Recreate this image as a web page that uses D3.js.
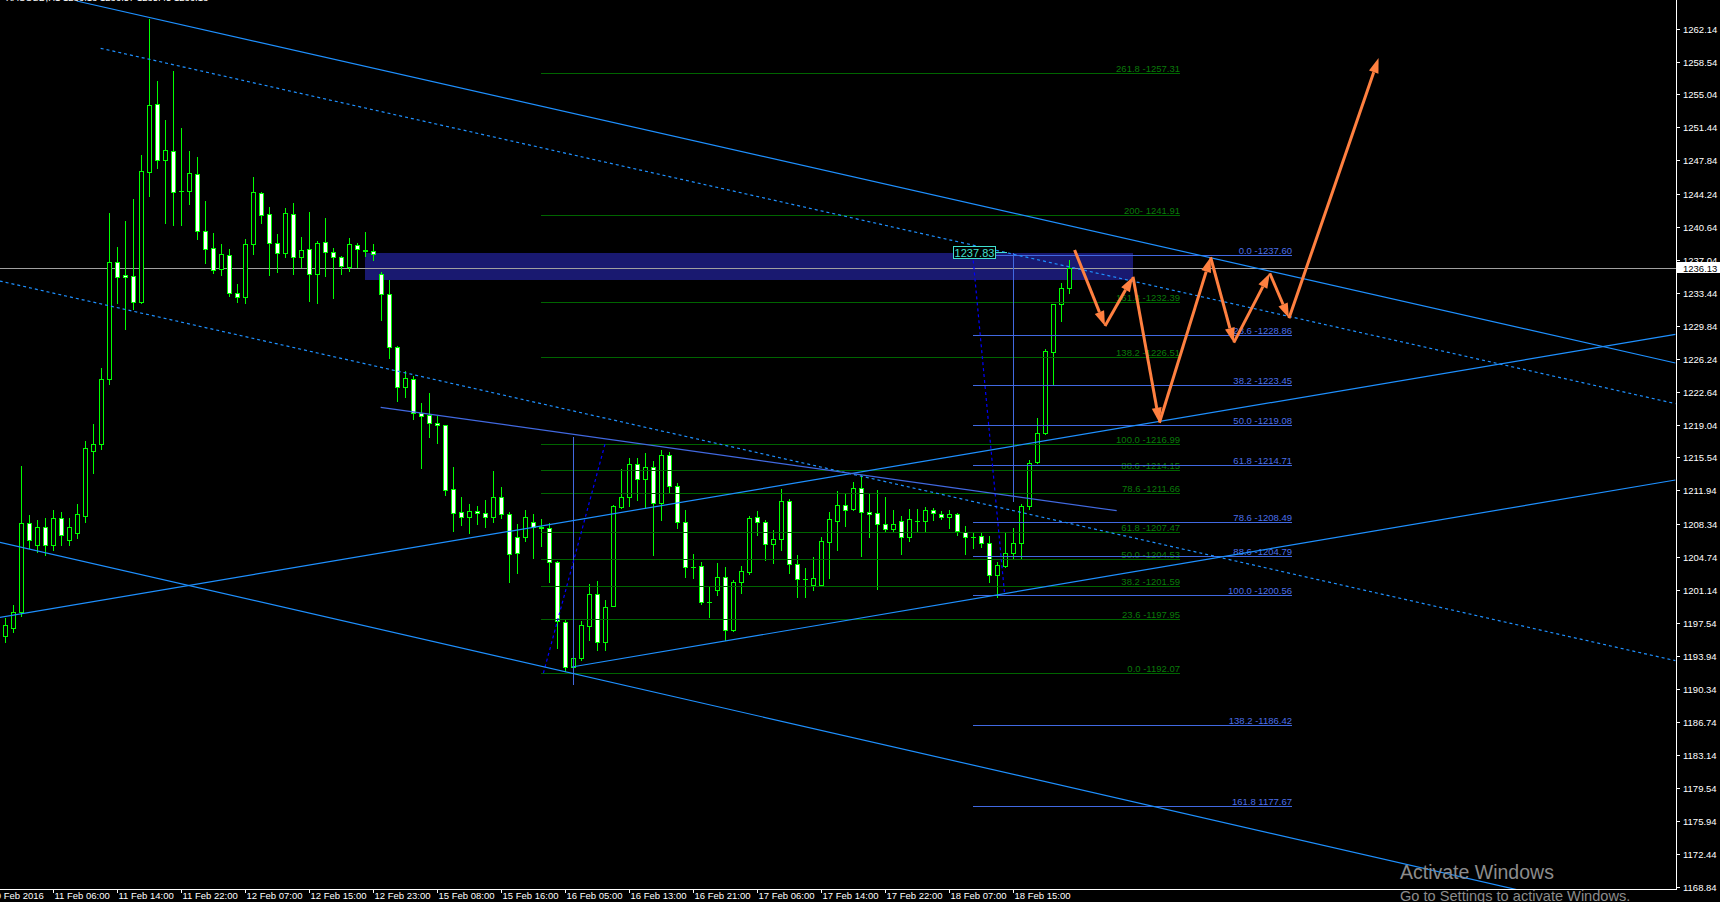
<!DOCTYPE html>
<html><head><meta charset="utf-8">
<script src="https://cdn.jsdelivr.net/npm/d3@7"></script>
<style>
html,body{margin:0;padding:0;background:#000;overflow:hidden;}
svg{display:block;}
text{font-family:"Liberation Sans",Arial,sans-serif;}
</style></head><body>
<svg id="chart" width="1720" height="902"></svg>
<script>
// ---------------- DATA ----------------
const firstBar = -14;
const opens = [1196.11,1196.98,1198.72,1208.40,1206.01,1207.97,1206.01,1208.94,1206.60,1207.30,1209.20,1216.20,1217.00,1224.10,
1236.76,1235.35,1235.24,1232.41,1246.62,1253.95,1247.86,1248.84,1244.55,1244.55,1246.33,1240.13,1238.28,1236.00,1237.52,1233.39,1232.95,1238.72,1244.27,1241.98,1238.83,1237.74,1241.98,1237.31,1238.18,1235.46,1238.94,1237.85,1237.31,1236.22,1238.61,1238.07,1237.96,
1235.46,1233.28,1227.52,1223.23,1224.03,1220.34,1220.12,1219.25,1219.03,1212.07,1209.57,1209.02,1209.68,1209.46,1209.02,1211.20,1209.35,1206.91,1206.85,1208.48,1207.94,1207.83,1204.13,1197.60,1192.71,1193.68,1197.23,1200.68,1195.49,1199.41,1210.11,1211.26,1214.82,1213.19,1214.53,1210.55,1215.80,1212.43,1208.48,1203.65,1203.73,1199.84,1201.15,1202.49,1196.80,1201.95,1203.04,1209.02,1208.48,1206.15,1206.63,1210.80,1203.91,1202.31,1201.66,1201.66,1206.37,1208.65,1210.33,1209.93,1212.18,1209.63,1209.46,1208.26,1207.72,1208.59,1206.91,1208.65,1208.59,1209.78,1209.41,1209.02,1209.35,1207.39,1206.91,1206.96,1206.28,1202.71,1203.76,1205.17,1206.20,1210.25,1215.07,1218.16,1227.04,1232.19,1233.99];
const highs = [1198.07,1199.48,1214.60,1209.27,1208.73,1208.94,1209.82,1209.59,1209.00,1210.50,1217.30,1219.20,1225.30,1242.09,
1238.43,1241.26,1243.65,1248.43,1263.23,1256.48,1252.24,1257.57,1251.37,1248.87,1248.22,1243.43,1239.95,1238.75,1238.21,1234.40,1239.30,1246.04,1244.44,1242.75,1239.81,1242.64,1243.21,1239.48,1242.20,1239.05,1241.54,1238.28,1237.41,1239.37,1238.83,1240.03,1238.72,
1235.71,1234.84,1227.66,1224.94,1224.40,1221.42,1222.51,1220.04,1219.10,1214.50,1211.23,1210.47,1210.25,1210.91,1214.06,1212.32,1209.59,1208.26,1209.82,1209.35,1208.84,1208.37,1204.30,1197.96,1193.82,1197.74,1201.77,1202.09,1200.03,1210.36,1214.24,1215.44,1215.44,1215.98,1215.15,1216.34,1216.16,1212.72,1209.82,1205.03,1204.13,1201.58,1204.02,1203.65,1202.20,1203.73,1209.16,1209.71,1208.73,1207.64,1212.07,1211.05,1204.92,1203.47,1204.67,1206.91,1209.59,1211.88,1211.70,1212.90,1213.62,1211.52,1211.99,1211.20,1209.82,1209.20,1209.93,1209.93,1210.18,1210.07,1209.71,1209.82,1209.46,1208.08,1207.46,1207.28,1206.99,1204.16,1207.42,1207.83,1210.47,1215.26,1219.79,1227.33,1232.19,1234.48,1236.99];
const lows = [1195.46,1196.55,1198.29,1205.68,1205.25,1204.92,1205.47,1206.01,1206.00,1206.80,1208.50,1213.80,1216.40,1223.50,
1232.37,1229.51,1231.65,1232.30,1244.01,1247.05,1241.07,1240.85,1240.85,1243.14,1239.30,1236.69,1235.63,1235.41,1233.06,1232.47,1232.37,1237.70,1241.07,1235.41,1235.74,1237.37,1235.52,1236.22,1232.58,1232.37,1235.30,1232.91,1235.46,1235.78,1236.22,1237.41,1236.98,
1230.49,1226.39,1221.70,1222.14,1219.72,1214.42,1217.79,1217.14,1211.45,1207.56,1208.19,1207.35,1208.30,1208.00,1208.54,1208.91,1202.02,1202.96,1206.48,1204.63,1205.93,1202.02,1194.77,1192.34,1192.07,1193.50,1195.67,1194.59,1194.59,1199.38,1210.00,1210.25,1210.91,1210.00,1204.92,1208.73,1211.81,1207.83,1202.56,1202.45,1199.59,1198.18,1200.57,1195.67,1196.70,1200.82,1202.86,1207.13,1204.41,1204.02,1205.47,1202.99,1200.39,1200.39,1201.11,1201.60,1202.45,1205.47,1208.11,1209.82,1204.85,1206.91,1201.26,1207.53,1207.56,1205.00,1206.48,1207.53,1207.56,1208.73,1208.84,1207.83,1207.13,1205.03,1205.65,1205.83,1202.02,1200.39,1203.65,1204.56,1204.56,1209.93,1214.93,1218.05,1223.52,1230.41,1233.45];
const closes = [1197.31,1198.72,1208.40,1206.55,1207.97,1206.01,1208.94,1207.10,1208.00,1209.40,1216.60,1217.00,1224.10,1236.76,
1235.20,1235.13,1232.41,1246.66,1253.84,1247.86,1248.95,1244.44,1244.55,1246.44,1240.13,1238.18,1235.89,1237.63,1233.39,1232.95,1238.72,1244.37,1241.87,1238.83,1237.74,1242.09,1237.31,1238.07,1235.46,1238.83,1237.85,1237.31,1236.33,1238.72,1238.18,1237.96,1237.63,
1233.28,1227.52,1223.23,1224.15,1220.34,1220.07,1219.25,1219.03,1211.96,1209.52,1209.02,1209.68,1209.46,1209.02,1211.20,1209.35,1205.06,1205.17,1209.02,1207.94,1207.86,1204.13,1197.74,1192.71,1193.68,1197.31,1200.68,1195.49,1199.30,1210.25,1211.26,1214.82,1213.19,1214.53,1210.55,1215.80,1212.43,1208.54,1203.58,1203.62,1199.84,1199.81,1202.49,1196.73,1201.95,1203.15,1208.94,1208.48,1206.15,1206.66,1210.80,1203.91,1202.28,1202.28,1202.39,1206.41,1208.84,1210.33,1209.85,1212.18,1209.63,1209.35,1208.26,1207.72,1208.26,1206.91,1208.80,1208.62,1209.78,1209.46,1209.02,1209.35,1207.53,1206.85,1206.88,1206.20,1202.71,1203.80,1205.19,1206.20,1210.25,1214.90,1218.16,1227.11,1232.19,1233.93,1236.13];

const priceTicks = [1262.14,1258.54,1255.04,1251.44,1247.84,1244.24,1240.64,1237.04,1233.44,1229.84,1226.24,1222.64,1219.04,1215.54,1211.94,1208.34,1204.74,1201.14,1197.54,1193.94,1190.34,1186.74,1183.14,1179.54,1175.94,1172.44,1168.84];
const lastPrice = 1236.13;
const timeTickBars = [-16,-8,0,8,16,24,32,40,48,56,64,72,80,88,96,104,112];
const timeLabels = ["10 Feb 2016","11 Feb 06:00","11 Feb 14:00","11 Feb 22:00","12 Feb 07:00","12 Feb 15:00","12 Feb 23:00","15 Feb 08:00","15 Feb 16:00","16 Feb 05:00","16 Feb 13:00","16 Feb 21:00","17 Feb 06:00","17 Feb 14:00","17 Feb 22:00","18 Feb 07:00","18 Feb 15:00"];

const greenFibLevels = [1257.31,1241.91,1232.39,1226.51,1216.99,1214.15,1211.66,1207.47,1204.53,1201.59,1197.95,1192.07];
const greenFibLabels = ["261.8 -1257.31","200- 1241.91","161.8 -1232.39","138.2 -1226.51","100.0 -1216.99","88.6 -1214.15","78.6 -1211.66","61.8 -1207.47","50.0 -1204.53","38.2 -1201.59","23.6 -1197.95","0.0 -1192.07"];
const greenFibSpan = [53, 132.9];
const blueFibLevels = [1237.60,1228.86,1223.45,1219.08,1214.71,1208.49,1204.79,1200.56,1186.42,1177.67];
const blueFibLabels = ["0.0 -1237.60","23.6 -1228.86","38.2 -1223.45","50.0 -1219.08","61.8 -1214.71","78.6 -1208.49","88.6 -1204.79","100.0 -1200.56","138.2 -1186.42","161.8 1177.67"];
const blueFibSpan = [107, 146.9];

const solidTrends = [[[-5.04,1265.19],[194.8,1225.81]],[[-14.66,1206.31],[194.8,1164.57]],[[-14.66,1198.13],[194.8,1228.93]],[[56.84,1192.74],[194.8,1213.08]]];
const dottedTrends = [[[-2.04,1260.04],[194.8,1221.39]],[[-14.66,1234.73],[194.8,1193.43]]];
const triangleTop = [[32.96,1220.99],[124.96,1209.74]];
const fibTrendLines = [[[53.3,1192.07],[61.0,1216.99]],[[106.96,1237.60],[110.96,1200.56]]];
const verticalLines = [[57,1217.73,1190.78],[112,1237.74,1210.72]];
const zoneBars = [30.96, 126.96];
const zonePrices = [1237.74, 1234.84];
const boxLabelBars = [104.46, 109.77];
const boxLabelPrice = 1237.83;
const forecastPath = [[119.7,1238.10],[123.5,1229.83],[127.0,1235.20],[130.3,1219.31],[136.7,1237.31],[139.6,1228.02],[144.1,1235.57],[146.5,1230.67],[157.7,1258.99]];

// ---------------- DRAW ----------------
const W = 1720, H = 902, PR = 1676, PB = 889;
const svg = d3.select("#chart");
const x = d3.scaleLinear().domain([-16, 119]).range([-11, 1069]);
const y = d3.scaleLinear().domain([1168.84, 1262.14]).range([886.7, 29]);
const Y = p => Math.round(y(p)) + 0.5;

svg.append("rect").attr("width", W).attr("height", H).attr("fill", "#000");
svg.append("defs").append("clipPath").attr("id", "plot")
  .append("rect").attr("x", 0).attr("y", 0).attr("width", PR).attr("height", PB);
const plot = svg.append("g").attr("clip-path", "url(#plot)");

// header (cut off at top, as in the screenshot)
svg.append("text").attr("x", 6).attr("y", 1).attr("fill", "#fff").attr("font-size", 9.5)
  .text("XAUUSD,H1  1236.13 1236.57 1235.45 1236.13");

// zone rectangle
plot.append("rect")
  .attr("x", Math.round(x(zoneBars[0]))).attr("y", Math.round(y(zonePrices[0])))
  .attr("width", Math.round(x(zoneBars[1]) - x(zoneBars[0])))
  .attr("height", Math.round(y(zonePrices[1]) - y(zonePrices[0])))
  .attr("fill", "#191970");

// last price line
plot.append("line").attr("x1", 0).attr("x2", PR).attr("y1", Y(lastPrice)).attr("y2", Y(lastPrice))
  .attr("stroke", "#a0a0a0").attr("shape-rendering", "crispEdges");

// candles
const bars = d3.range(opens.length).map(i => ({n: firstBar + i, o: opens[i], h: highs[i], l: lows[i], c: closes[i]}));
const cg = plot.append("g").attr("shape-rendering", "crispEdges");
const cand = cg.selectAll("g.c").data(bars).join("g").attr("class", "c");
cand.append("line")
  .attr("x1", d => Math.round(x(d.n)) + 0.5).attr("x2", d => Math.round(x(d.n)) + 0.5)
  .attr("y1", d => Math.round(y(d.h))).attr("y2", d => Math.round(y(d.l)) + 1)
  .attr("stroke", "#00ff00");
cand.each(function(d) {
  const g = d3.select(this);
  const cx = Math.round(x(d.n));
  const yo = Math.round(y(d.o)), yc = Math.round(y(d.c));
  if (Math.abs(yo - yc) < 1) {
    g.append("line").attr("x1", cx - 2).attr("x2", cx + 3).attr("y1", yo + 0.5).attr("y2", yo + 0.5)
      .attr("stroke", "#00ff00");
  } else {
    const t = Math.min(yo, yc), b = Math.max(yo, yc);
    g.append("rect").attr("x", cx - 1.5).attr("y", t + 0.5).attr("width", 4).attr("height", b - t)
      .attr("fill", d.c < d.o ? "#ffffff" : "#000000").attr("stroke", "#00ff00");
  }
});

// helpers
function seg(g, a, b, color, dash, w) {
  return g.append("line").attr("x1", x(a[0])).attr("y1", y(a[1])).attr("x2", x(b[0])).attr("y2", y(b[1]))
    .attr("stroke", color).attr("stroke-width", w || 1).attr("stroke-dasharray", dash || null);
}
const lg = plot.append("g");

// green fib extension
greenFibLevels.forEach((lv, i) => {
  lg.append("line").attr("x1", Math.round(x(greenFibSpan[0]))).attr("x2", Math.round(x(greenFibSpan[1])))
    .attr("y1", Y(lv)).attr("y2", Y(lv)).attr("stroke", "#006400").attr("shape-rendering", "crispEdges");
  lg.append("text").attr("x", Math.round(x(greenFibSpan[1]))).attr("y", Y(lv) - 2)
    .attr("text-anchor", "end").attr("font-size", 9.5).attr("fill", "#0a7a0a").text(greenFibLabels[i]);
});
// blue fib retracement
blueFibLevels.forEach((lv, i) => {
  lg.append("line").attr("x1", Math.round(x(blueFibSpan[0]))).attr("x2", Math.round(x(blueFibSpan[1])))
    .attr("y1", Y(lv)).attr("y2", Y(lv)).attr("stroke", "#4169e1").attr("shape-rendering", "crispEdges");
  lg.append("text").attr("x", Math.round(x(blueFibSpan[1]))).attr("y", Y(lv) - 2)
    .attr("text-anchor", "end").attr("font-size", 9.5).attr("fill", "#4a6ee8").text(blueFibLabels[i]);
});

// vertical lines
verticalLines.forEach(v => {
  lg.append("line").attr("x1", Math.round(x(v[0])) + 0.5).attr("x2", Math.round(x(v[0])) + 0.5)
    .attr("y1", y(v[1])).attr("y2", y(v[2])).attr("stroke", "#4169e1").attr("shape-rendering", "crispEdges");
});
// fib trend lines (dotted blue)
fibTrendLines.forEach(t => seg(lg, t[0], t[1], "#0000ff", "3,3", 1.2));
// channel trend lines
solidTrends.forEach(t => seg(lg, t[0], t[1], "#1e90ff", null, 1.2));
dottedTrends.forEach(t => seg(lg, t[0], t[1], "#1e90ff", "3,3", 1.2));
seg(lg, triangleTop[0], triangleTop[1], "#4169e1", null, 1.2);

// price label box 1237.83
const bx0 = Math.round(x(boxLabelBars[0])), bx1 = Math.round(x(boxLabelBars[1]));
const by = Math.round(y(boxLabelPrice));
lg.append("line").attr("x1", bx1).attr("x2", bx1 + 12).attr("y1", by + 0.5).attr("y2", by + 0.5).attr("stroke", "#40e0d0");
lg.append("rect").attr("x", bx0 + 0.5).attr("y", by - 6 + 0.5).attr("width", bx1 - bx0).attr("height", 12)
  .attr("fill", "#000").attr("stroke", "#40e0d0");
lg.append("text").attr("x", (bx0 + bx1) / 2 + 0.5).attr("y", by + 4.5).attr("text-anchor", "middle")
  .attr("font-size", 11).attr("fill", "#40e0d0").text(boxLabelPrice.toFixed(2));

// forecast arrows
const ag = plot.append("g");
for (let i = 0; i < forecastPath.length - 1; i++) {
  const p0 = [x(forecastPath[i][0]), y(forecastPath[i][1])];
  const p1 = [x(forecastPath[i + 1][0]), y(forecastPath[i + 1][1])];
  const dx = p1[0] - p0[0], dy = p1[1] - p0[1], L = Math.hypot(dx, dy);
  const ux = dx / L, uy = dy / L, hl = 15, hw = 5;
  const bxp = p1[0] - ux * hl, byp = p1[1] - uy * hl;
  ag.append("line").attr("x1", p0[0]).attr("y1", p0[1]).attr("x2", bxp).attr("y2", byp)
    .attr("stroke", "#ff8040").attr("stroke-width", 3);
  ag.append("path").attr("d", `M${p1[0]},${p1[1]}L${bxp - uy * hw},${byp + ux * hw}L${bxp + uy * hw},${byp - ux * hw}Z`)
    .attr("fill", "#ff8040");
}

// ---------------- AXES ----------------
const axR = svg.append("g").attr("transform", `translate(${PR},0)`)
  .call(d3.axisRight(y).tickValues(priceTicks).tickFormat(d3.format(".2f")).tickSize(3).tickPadding(4));
axR.select(".domain").remove();
axR.selectAll(".tick line").attr("stroke", "#fff").attr("x1", 1).attr("x2", 4);
axR.selectAll(".tick text").attr("fill", "#fff").attr("font-size", 9.5).attr("font-family", "Liberation Sans, Arial, sans-serif").attr("x", 7);
axR.selectAll(".tick").attr("transform", d => `translate(0,${Y(d)})`);

const axB = svg.append("g").attr("transform", `translate(0,${PB})`)
  .call(d3.axisBottom(x).tickValues(timeTickBars).tickFormat((d, i) => timeLabels[i]).tickSize(4).tickPadding(2));
axB.select(".domain").remove();
axB.selectAll(".tick line").attr("stroke", "#fff");
axB.selectAll(".tick text").attr("fill", "#fff").attr("font-size", 9.5).attr("font-family", "Liberation Sans, Arial, sans-serif")
  .attr("text-anchor", "start").attr("x", 1).attr("y", 3).attr("dy", "0.71em");
axB.selectAll(".tick").attr("transform", d => `translate(${Math.round(x(d)) + 0.5},0)`);

svg.append("line").attr("x1", PR + 0.5).attr("x2", PR + 0.5).attr("y1", 0).attr("y2", PB + 1).attr("stroke", "#fff");
svg.append("line").attr("x1", 0).attr("x2", PR + 1).attr("y1", PB + 0.5).attr("y2", PB + 0.5).attr("stroke", "#fff");

// current price label
const ly = Math.round(y(lastPrice));
svg.append("rect").attr("x", PR + 1).attr("y", ly - 6).attr("width", W - PR - 1).attr("height", 11).attr("fill", "#fff");
svg.append("text").attr("x", PR + 7).attr("y", ly + 3.5).attr("font-size", 9.5).attr("fill", "#000").text(lastPrice.toFixed(2));

// watermark
svg.append("text").attr("x", 1400).attr("y", 879).attr("font-family", "Open Sans, sans-serif").attr("font-size", 19.5)
  .attr("fill", "#8c8c8c").text("Activate Windows");
svg.append("text").attr("x", 1400).attr("y", 901).attr("font-family", "Open Sans, sans-serif").attr("font-size", 14.6)
  .attr("fill", "#8c8c8c").text("Go to Settings to activate Windows.");
</script>
</body></html>
